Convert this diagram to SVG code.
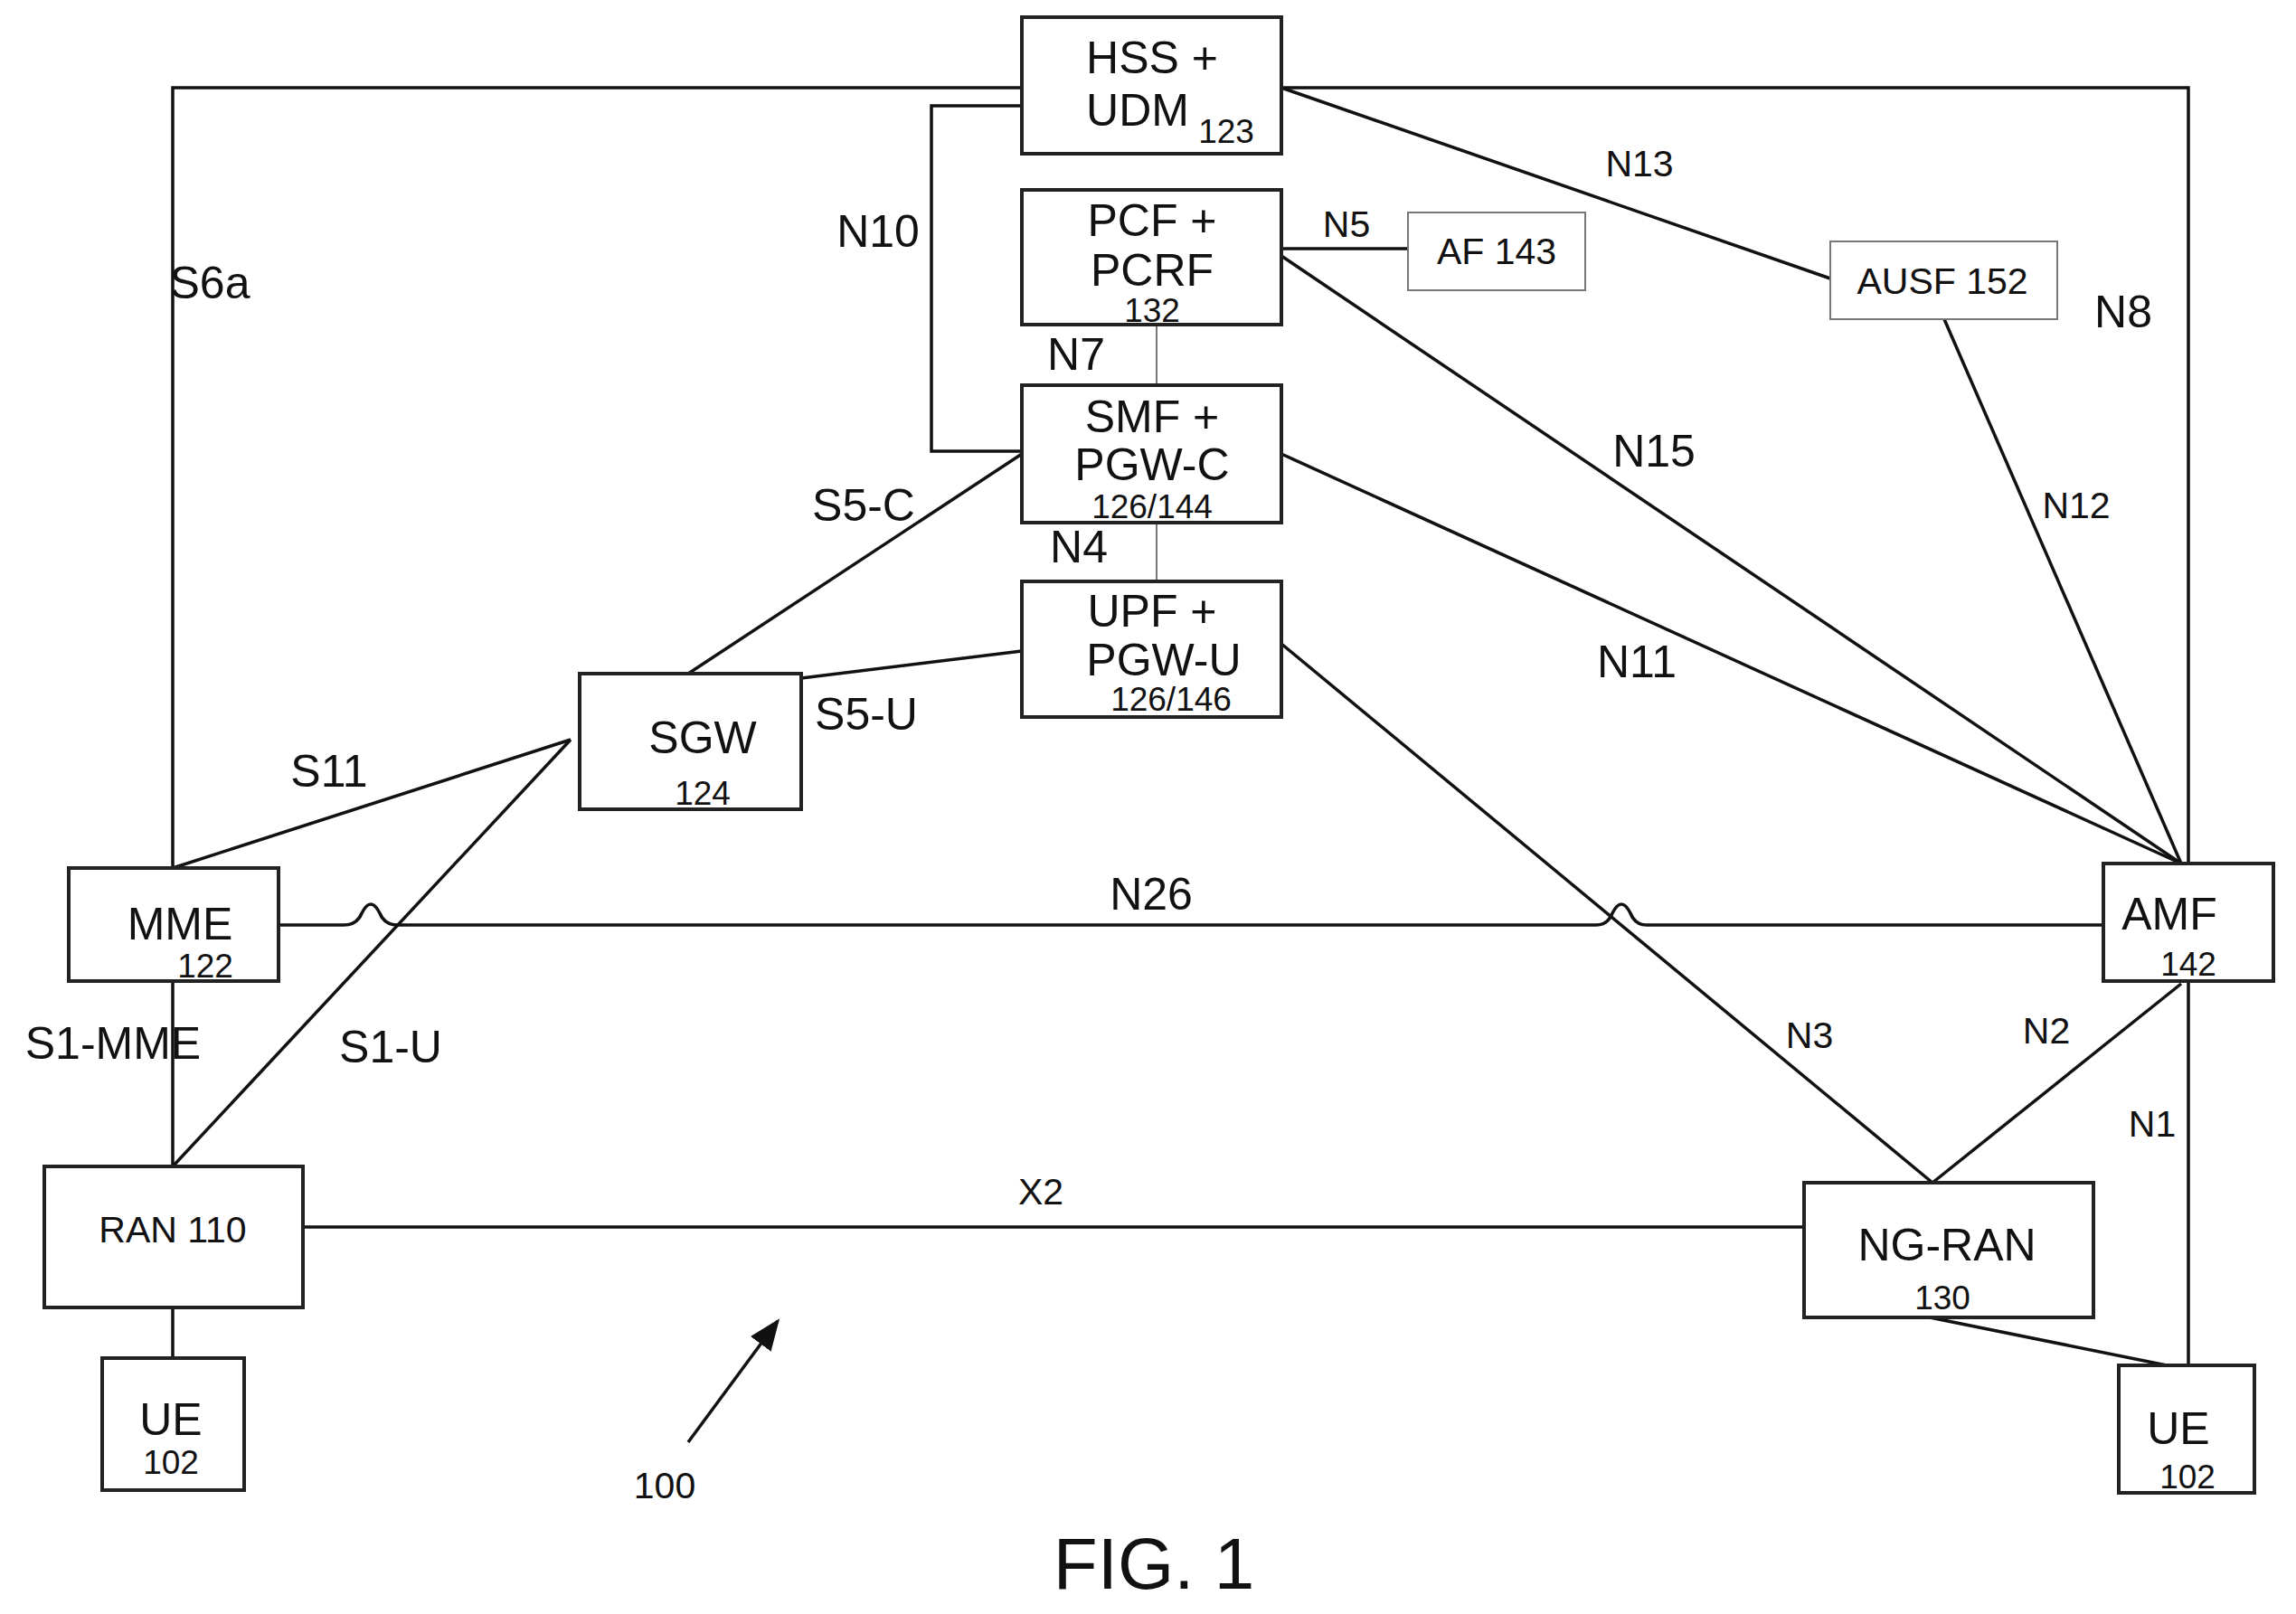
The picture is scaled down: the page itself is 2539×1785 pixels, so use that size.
<svg xmlns="http://www.w3.org/2000/svg" width="2539" height="1785" viewBox="0 0 2539 1785">
<defs>
<style>
.b{fill:#fff;stroke:#222;stroke-width:4}
.bt{fill:#fff;stroke:#777;stroke-width:2}
.l{fill:none;stroke:#111;stroke-width:3.5}
.t{stroke:#777;stroke-width:2;fill:none}
text{font-family:"Liberation Sans",Arial,sans-serif;fill:#111;text-anchor:middle;dominant-baseline:central}
.L{font-size:50px}.S{font-size:41px}.N{font-size:50px}.n{font-size:37px}
</style>
<marker id="ah" markerWidth="10" markerHeight="10" refX="9" refY="5" orient="auto" markerUnits="strokeWidth"><path d="M0,1 L10,5 L0,9 z" fill="#111"/></marker>
</defs>
<rect width="2539" height="1785" fill="#fff"/>
<g id="connectors">
<path class="l" d="M191,960 V97 H1130"/>
<path class="l" d="M1417,97 H2420 V955"/>
<path class="l" d="M2420,1085 V1510"/>
<path class="l" d="M1130,117 H1030 V499 H1130"/>
<path class="l" d="M1417,97 L2024,308"/>
<path class="l" d="M1417,275 H1557"/>
<path class="l" d="M1417,283 L2412,955"/>
<path class="l" d="M2150,353 L2412,955"/>
<path class="l" d="M1417,502 L2412,955"/>
<path class="t" d="M1279,359 V426"/>
<path class="t" d="M1279,578 V643"/>
<path class="l" d="M1130,502 L761,745"/>
<path class="l" d="M1130,720 L886,750"/>
<path class="l" d="M191,960 L631,818"/>
<path class="l" d="M191,1290 L631,818"/>
<path class="l" d="M191,1085 V1290"/>
<path class="l" d="M308,1023 H380 Q395,1023 400,1010 Q410,990 420,1010 Q425,1023 440,1023 H1765 Q1778,1023 1783,1010 Q1793,990 1803,1010 Q1808,1023 1821,1023 H2326"/>
<path class="l" d="M1417,712 L2137,1308"/>
<path class="l" d="M2137,1308 L2412,1088"/>
<path class="l" d="M335,1357 H1995"/>
<path class="l" d="M191,1446 V1502"/>
<path class="l" d="M2134,1457 L2396,1510"/>
<path class="l" d="M761,1595 L860,1461" marker-end="url(#ah)"/>
</g>
<g id="labels">
<text class="L" x="232" y="313">S6a</text>
<text class="L" x="971" y="256">N10</text>
<text class="S" x="1489" y="248">N5</text>
<text class="S" x="1813" y="181">N13</text>
<text class="L" x="2348" y="345">N8</text>
<text class="L" x="1190" y="392">N7</text>
<text class="L" x="1829" y="499">N15</text>
<text class="S" x="2296" y="559">N12</text>
<text class="L" x="955" y="559">S5-C</text>
<text class="L" x="1193" y="605">N4</text>
<text class="L" x="1810" y="732">N11</text>
<text class="L" x="958" y="790">S5-U</text>
<text class="L" x="364" y="853">S11</text>
<text class="L" x="1273" y="989">N26</text>
<text class="L" x="125" y="1154">S1-MME</text>
<text class="L" x="432" y="1158">S1-U</text>
<text class="S" x="2001" y="1145">N3</text>
<text class="S" x="2263" y="1140">N2</text>
<text class="S" x="2380" y="1243">N1</text>
<text class="S" x="1151" y="1318">X2</text>
<text class="S" x="735" y="1643">100</text>
<text x="1276" y="1729" style="font-size:80px">FIG. 1</text>
</g>
<g id="hss"><rect class="b" x="1130" y="19" width="287" height="151"/><text class="N" x="1274" y="64">HSS +</text><text class="N" x="1258" y="122">UDM</text><text class="n" x="1356" y="145">123</text></g>
<g id="pcf"><rect class="b" x="1130" y="210" width="287" height="149"/><text class="N" x="1274" y="244">PCF +</text><text class="N" x="1274" y="299">PCRF</text><text class="n" x="1274" y="343">132</text></g>
<g id="af"><rect class="bt" x="1557" y="235" width="196" height="86"/><text class="S" x="1655" y="278">AF 143</text></g>
<g id="ausf"><rect class="bt" x="2024" y="267" width="251" height="86"/><text class="S" x="2148" y="311">AUSF 152</text></g>
<g id="smf"><rect class="b" x="1130" y="426" width="287" height="152"/><text class="N" x="1274" y="461">SMF +</text><text class="N" x="1274" y="514">PGW-C</text><text class="n" x="1274" y="560">126/144</text></g>
<g id="upf"><rect class="b" x="1130" y="643" width="287" height="150"/><text class="N" x="1274" y="676">UPF +</text><text class="N" x="1287" y="730">PGW-U</text><text class="n" x="1295" y="773">126/146</text></g>
<g id="sgw"><rect class="b" x="641" y="745" width="245" height="150"/><text class="N" x="777" y="816">SGW</text><text class="n" x="777" y="877">124</text></g>
<g id="mme"><rect class="b" x="76" y="960" width="232" height="125"/><text class="N" x="199" y="1022">MME</text><text class="n" x="227" y="1068">122</text></g>
<g id="amf"><rect class="b" x="2326" y="955" width="188" height="130"/><text class="N" x="2399" y="1011">AMF</text><text class="n" x="2420" y="1066">142</text></g>
<g id="ran"><rect class="b" x="49" y="1290" width="286" height="156"/><text class="S" x="191" y="1360">RAN 110</text></g>
<g id="ngran"><rect class="b" x="1995" y="1308" width="320" height="149"/><text class="N" x="2153" y="1377">NG-RAN</text><text class="n" x="2148" y="1435">130</text></g>
<g id="ue1"><rect class="b" x="113" y="1502" width="157" height="146"/><text class="N" x="189" y="1570">UE</text><text class="n" x="189" y="1617">102</text></g>
<g id="ue2"><rect class="b" x="2343" y="1510" width="150" height="141"/><text class="N" x="2409" y="1580">UE</text><text class="n" x="2419" y="1633">102</text></g>
</svg>
